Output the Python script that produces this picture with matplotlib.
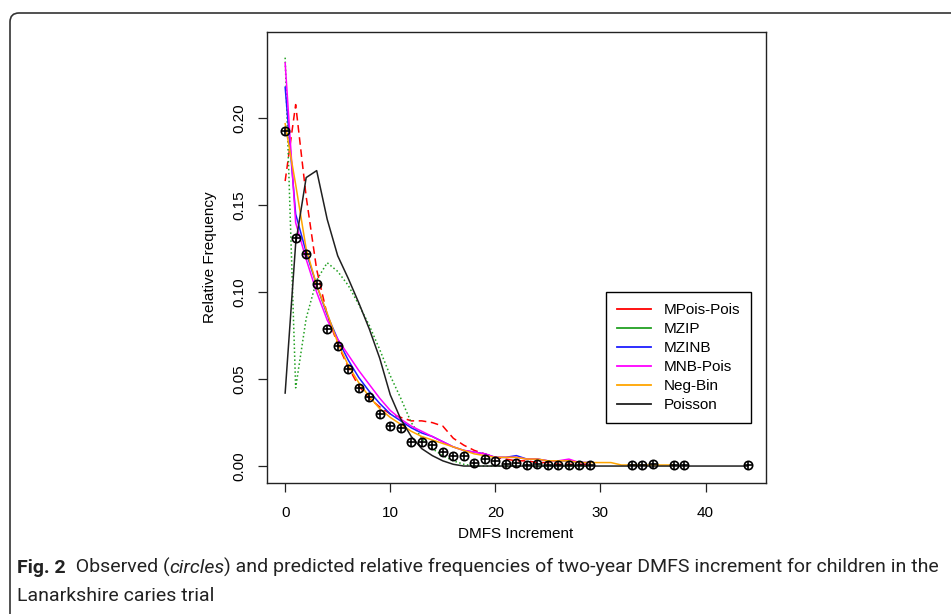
import matplotlib

matplotlib.use("Agg")
import matplotlib.pyplot as plt
from matplotlib import font_manager
from matplotlib.lines import Line2D
from matplotlib.patches import FancyBboxPatch
from matplotlib.transforms import IdentityTransform

# observed relative frequencies (circles)
x_obs = list(range(30)) + [33, 34, 35, 37, 38, 44]
obs_freq = [0.193, 0.131, 0.122, 0.105, 0.079, 0.069, 0.056, 0.045, 0.040, 0.030,
            0.023, 0.022, 0.014, 0.014, 0.012, 0.008, 0.006, 0.006, 0.002, 0.004,
            0.003, 0.001, 0.002, 0.0005, 0.001, 0.0005, 0.0008, 0.0005, 0.0005, 0.0008,
            0.0005, 0.0005, 0.001, 0.0005, 0.0005, 0.0005]

# predicted relative frequencies
x_model = list(range(30))
mpois_pois = [0.164, 0.208, 0.155, 0.113, 0.087, 0.070, 0.057, 0.046, 0.039, 0.034,
              0.030, 0.028, 0.026, 0.026, 0.025, 0.023, 0.016, 0.012, 0.009, 0.007,
              0.005, 0.004, 0.003, 0.003, 0.002, 0.002, 0.001, 0.001, 0.001, 0.001]
mzip = [0.235, 0.045, 0.085, 0.107, 0.117, 0.112, 0.104, 0.093, 0.081, 0.067,
        0.052, 0.039, 0.025, 0.016, 0.010, 0.006, 0.003, 0.001, 0.0, 0.0,
        0.0, 0.0, 0.0, 0.0, 0.0, 0.0, 0.0, 0.0, 0.0, 0.0]
mzinb = [0.218, 0.145, 0.123, 0.104, 0.087, 0.073, 0.061, 0.051, 0.043, 0.036,
         0.030, 0.026, 0.022, 0.019, 0.017, 0.014, 0.011, 0.009, 0.008, 0.007,
         0.005, 0.005, 0.006, 0.004, 0.004, 0.003, 0.003, 0.003, 0.002, 0.002]
mnb_pois = [0.232, 0.140, 0.119, 0.100, 0.084, 0.073, 0.064, 0.055, 0.047, 0.039,
            0.032, 0.027, 0.023, 0.020, 0.017, 0.014, 0.011, 0.009, 0.008, 0.007,
            0.005, 0.005, 0.005, 0.004, 0.004, 0.003, 0.003, 0.004, 0.002, 0.002]
x_negbin = list(range(38))
neg_bin = [0.197, 0.162, 0.125, 0.104, 0.088, 0.071, 0.058, 0.048, 0.040, 0.033,
           0.028, 0.024, 0.020, 0.017, 0.015, 0.013, 0.011, 0.009, 0.007, 0.006,
           0.005, 0.005, 0.005, 0.004, 0.004, 0.003, 0.003, 0.003, 0.002, 0.002,
           0.002, 0.002, 0.0006, 0.0006, 0.0006, 0.0006, 0.0006, 0.0006]
x_poisson = list(range(45))
poisson = [0.042, 0.128, 0.166, 0.170, 0.142, 0.121, 0.108, 0.094, 0.079, 0.062,
           0.041, 0.027, 0.017, 0.010, 0.006, 0.003, 0.001] + [0.0] * 28

series = [
    ("MPois-Pois", x_model, mpois_pois, "#FF0000", (0, (5, 3))),
    ("MZIP", x_model, mzip, "#22A022", (0, (1, 1.6))),
    ("MZINB", x_model, mzinb, "#1E1EFF", "-"),
    ("MNB-Pois", x_model, mnb_pois, "#FF00FF", "-"),
    ("Neg-Bin", x_negbin, neg_bin, "#FFA500", "-"),
    ("Poisson", x_poisson, poisson, "#202020", "-"),
]


def pick_font(candidates):
    for name in candidates:
        try:
            font_manager.findfont(name, fallback_to_default=False)
            return name
        except ValueError:
            continue
    return "DejaVu Sans"


plt.rcParams["font.family"] = ["Liberation Sans", "DejaVu Sans"]
caption_font = pick_font(["Roboto", "Lato"])

fig = plt.figure(figsize=(9.51, 6.14), dpi=100)
ax = fig.add_axes([0.2804, 0.2138, 0.5251, 0.7336])

for label, xs, ys, color, style in series:
    ax.plot(xs, ys, color=color, linestyle=style, linewidth=1.1)
ax.plot(x_obs, obs_freq, linestyle="none", marker="o", markersize=6,
        markerfacecolor="none", markeredgecolor="black", markeredgewidth=1.2)
ax.plot(x_obs, obs_freq, linestyle="none", marker="+", markersize=6,
        color="black", markeredgewidth=1.2)

ax.set_xlim(-1.76, 45.76)
ax.set_ylim(-0.0096, 0.2496)
ax.set_xticks([0, 10, 20, 30, 40])
ax.set_yticks([0.0, 0.05, 0.10, 0.15, 0.20])
ax.set_yticklabels(["0.00", "0.05", "0.10", "0.15", "0.20"], rotation=90, va="center")
ax.tick_params(axis="both", direction="out", length=6.5, width=0.9, labelsize=11, color="#222222")
ax.tick_params(axis="x", pad=10)
ax.tick_params(axis="y", pad=8)
for spine in ax.spines.values():
    spine.set_linewidth(1.0)
    spine.set_color("#222222")

fig.text(516 / 951, 1 - 534 / 614, "DMFS Increment", ha="center", va="center", fontsize=11)
fig.text(210 / 951, 1 - 257 / 614, "Relative Frequency", ha="center", va="center",
         rotation=90, fontsize=11)

handles = [Line2D([0], [0], color=c, linewidth=1.3) for _, _, _, c, _ in series]
leg = ax.legend(handles, [s[0] for s in series], loc="upper left",
                bbox_to_anchor=(0.6796, 0.4234), borderaxespad=0, fontsize=11,
                handlelength=2.2, handletextpad=0.8, labelspacing=0.32,
                borderpad=0.75, fancybox=False, framealpha=1)
leg.get_frame().set_edgecolor("black")
leg.get_frame().set_linewidth(1.0)

# outer panel border with rounded corners (pixel coordinates)
border = FancyBboxPatch((10, -30), 980, 631, boxstyle="round,pad=0,rounding_size=9",
                        transform=IdentityTransform(), fill=False,
                        edgecolor="#333333", linewidth=1.2)
fig.patches.append(border)

# caption, written in pieces so bold / italic parts line up
renderer = fig.canvas.get_renderer()
caption_lines = [
    [("Fig. 2", "bold", "normal"), ("  Observed (", "normal", "normal"),
     ("circles", "normal", "italic"),
     (") and predicted relative frequencies of two-year DMFS increment for children in the",
      "normal", "normal")],
    [("Lanarkshire caries trial", "normal", "normal")],
]
baselines = [614 - 573, 614 - 601]
for pieces, base in zip(caption_lines, baselines):
    x = 17
    for text, weight, style in pieces:
        t = fig.text(x, base, text, transform=IdentityTransform(), fontsize=14.0,
                     family=[caption_font, "DejaVu Sans"], fontweight=weight,
                     fontstyle=style, va="baseline", ha="left", color="#222222")
        x += t.get_window_extent(renderer).width

fig.savefig("out.png", dpi=100)
